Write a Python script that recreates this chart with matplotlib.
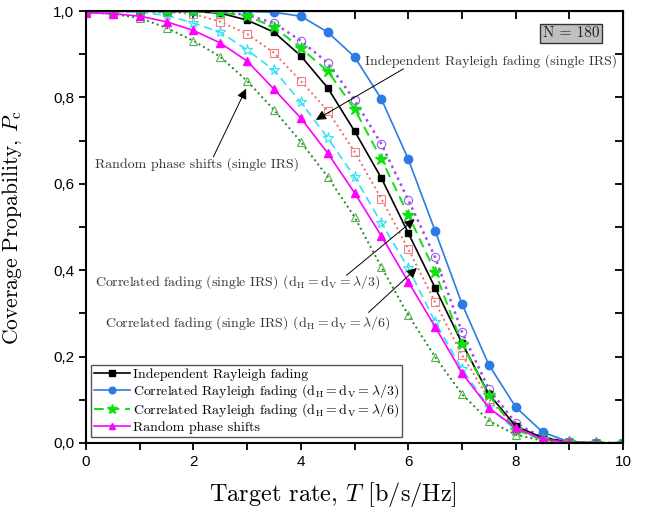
import numpy as np
import matplotlib
matplotlib.use("Agg")
import matplotlib.pyplot as plt
from matplotlib.ticker import MultipleLocator, FuncFormatter

plt.rcParams['font.family'] = 'serif'
plt.rcParams['font.serif'] = ['cmr10', 'DejaVu Serif']
plt.rcParams['mathtext.fontset'] = 'cm'
plt.rcParams['axes.unicode_minus'] = False
plt.rcParams['axes.formatter.use_mathtext'] = True

# target rate T [b/s/Hz]
T = np.arange(0, 10.01, 0.5)

# single-IRS cases with legend entries
indep = [1.0, 1.0, 1.0, 0.999, 0.999, 0.995, 0.979, 0.951, 0.896, 0.822, 0.722,
         0.613, 0.486, 0.359, 0.231, 0.113, 0.039, 0.012, 0.002, 0.0, 0.0]
corr3 = [1.0, 1.0, 1.0, 1.0, 1.0, 1.0, 0.999, 0.997, 0.988, 0.951, 0.894,
         0.796, 0.657, 0.491, 0.322, 0.181, 0.083, 0.025, 0.002, 0.0, 0.0]
corr6 = [1.0, 1.0, 1.0, 0.999, 0.999, 0.997, 0.988, 0.963, 0.914, 0.861, 0.773,
         0.657, 0.528, 0.396, 0.229, 0.111, 0.030, 0.008, 0.001, 0.0, 0.0]
rand = [0.996, 0.994, 0.988, 0.975, 0.955, 0.926, 0.884, 0.819, 0.752, 0.671, 0.579,
        0.479, 0.373, 0.269, 0.162, 0.081, 0.035, 0.009, 0.001, 0.0, 0.0]

# curves without legend entries (annotated ones)
indep_s = [1.0, 1.0, 1.0, 0.999, 0.999, 0.998, 0.991, 0.972, 0.931, 0.880, 0.794,
           0.692, 0.5625, 0.430, 0.257, 0.125, 0.046, 0.012, 0.002, 0.0, 0.0]
corr3_s = [1.0, 0.999, 0.999, 0.998, 0.993, 0.975, 0.947, 0.903, 0.838, 0.769, 0.674,
           0.565, 0.449, 0.326, 0.204, 0.102, 0.035, 0.008, 0.001, 0.0, 0.0]
corr6_s = [0.999, 0.998, 0.997, 0.990, 0.972, 0.951, 0.910, 0.863, 0.789, 0.706, 0.616,
           0.509, 0.405, 0.280, 0.171, 0.083, 0.030, 0.007, 0.001, 0.0, 0.0]
rand_s = [0.997, 0.993, 0.984, 0.961, 0.931, 0.894, 0.838, 0.771, 0.697, 0.616, 0.523,
          0.407, 0.296, 0.199, 0.113, 0.051, 0.019, 0.005, 0.001, 0.0, 0.0]

labels = ["Independent Rayleigh fading",
          r"Correlated Rayleigh fading ($\mathrm{d_H} = \mathrm{d_V} = \lambda/3$)",
          r"Correlated Rayleigh fading ($\mathrm{d_H} = \mathrm{d_V} = \lambda/6$)",
          "Random phase shifts"]


def arrow(ax, head, tail):
    ax.annotate("", xy=head, xytext=tail,
                arrowprops=dict(arrowstyle='-|>', color='black', lw=0.7,
                                mutation_scale=15, shrinkA=0, shrinkB=0))


def main():
    fig = plt.figure(figsize=(6.47, 5.12), dpi=100)
    ax = fig.add_axes([0.133, 0.135, 0.830, 0.8435])

    ms = 5
    ax.plot(T, rand_s, ':', color='#1f8a1f', lw=1.4, marker='^', ms=ms + 1,
            mfc='none', mec='#55b055', mew=0.8)
    ax.plot(T, corr6_s, '--', color='#30e0f4', lw=1.2, dashes=(5, 3), marker='*',
            ms=ms + 3, mfc='none', mec='#30e0f4', mew=0.8)
    ax.plot(T, corr3_s, ':', color='#f06a6a', lw=1.4, marker='s', ms=ms + 1,
            mfc='none', mec='#f28080', mew=0.8)
    ax.plot(T, indep_s, ':', color='#9a4cf0', lw=1.8, marker='o', ms=ms + 1,
            mfc='none', mec='#9a5cf0', mew=0.8)

    ax.plot(T, indep, '-', color='black', lw=1.2, marker='s', ms=ms, label=labels[0])
    ax.plot(T, corr3, '-', color='#2a7be4', lw=1.2, marker='o', ms=ms + 1, label=labels[1])
    ax.plot(T, corr6, '--', color='#10e010', lw=1.4, dashes=(5, 3), marker='*',
            ms=ms + 4, label=labels[2])
    ax.plot(T, rand, '-', color='#ff00ff', lw=1.2, marker='^', ms=ms + 1, label=labels[3])

    ax.set_xlim(0, 10)
    ax.set_ylim(0, 1.0)
    ax.xaxis.set_major_locator(MultipleLocator(2))
    ax.xaxis.set_minor_locator(MultipleLocator(1))
    ax.yaxis.set_major_locator(MultipleLocator(0.2))
    ax.yaxis.set_minor_locator(MultipleLocator(0.1))
    ax.yaxis.set_major_formatter(FuncFormatter(lambda v, p: f"{v:.1f}".replace('.', ',')))
    ax.xaxis.set_major_formatter(FuncFormatter(lambda v, p: f"{v:g}"))
    ax.tick_params(which='both', direction='out', width=1.3, length=5, top=False, right=False)
    for lab in ax.get_xticklabels() + ax.get_yticklabels():
        lab.set_fontfamily('Liberation Sans')
        lab.set_fontsize(11)
    for s in ax.spines.values():
        s.set_linewidth(1.5)

    # inward ticks on top and right
    sec_x = ax.secondary_xaxis('top')
    sec_x.xaxis.set_major_locator(MultipleLocator(1))
    sec_x.tick_params(direction='in', length=6, width=1.3, labeltop=False)
    sec_y = ax.secondary_yaxis('right')
    sec_y.yaxis.set_major_locator(MultipleLocator(0.1))
    sec_y.tick_params(direction='in', length=6, width=1.3, labelright=False)

    ax.set_xlabel(r"Target rate, $T$ [b/s/Hz]", fontsize=17.5)
    ax.xaxis.set_label_coords(0.46, -0.085)
    ax.set_ylabel(r"Coverage Propability, $P_\mathrm{c}$", fontsize=15.5)
    ax.yaxis.set_label_coords(-0.115, 0.5)

    leg = ax.legend(loc='lower left', bbox_to_anchor=(0.004, 0.008), fontsize=10,
                    fancybox=False, edgecolor='#555555', framealpha=1,
                    handlelength=2.6, borderpad=0.2, labelspacing=0.12,
                    handletextpad=0.2, markerscale=0.8, borderaxespad=0.2)
    leg.get_frame().set_linewidth(1.0)

    tcol = '#333333'
    ax.text(5.2, 0.884, "Independent Rayleigh fading (single IRS)", fontsize=10,
            color=tcol, ha='left', va='center')
    arrow(ax, (4.28, 0.748), (5.91, 0.866))

    ax.text(0.17, 0.646, "Random phase shifts (single IRS)", fontsize=10,
            color=tcol, ha='left', va='center')
    arrow(ax, (2.98, 0.82), (2.37, 0.662))

    ax.text(5.48, 0.372,
            r"Correlated fading (single IRS) ($\mathrm{d_H} = \mathrm{d_V} = \lambda/3$)",
            fontsize=10, color=tcol, ha='right', va='center')
    arrow(ax, (6.12, 0.518), (4.85, 0.388))

    ax.text(5.67, 0.277,
            r"Correlated fading (single IRS) ($\mathrm{d_H} = \mathrm{d_V} = \lambda/6$)",
            fontsize=10, color=tcol, ha='right', va='center')
    arrow(ax, (6.16, 0.405), (5.26, 0.302))

    ax.text(9.03, 0.948, "N = 180", fontsize=11, ha='center', va='center',
            color='#222222',
            bbox=dict(boxstyle='square,pad=0.2', fc='#c0c0c0', ec='#333333', lw=1.0))

    fig.savefig("out.png", dpi=100)


if __name__ == "__main__":
    main()
